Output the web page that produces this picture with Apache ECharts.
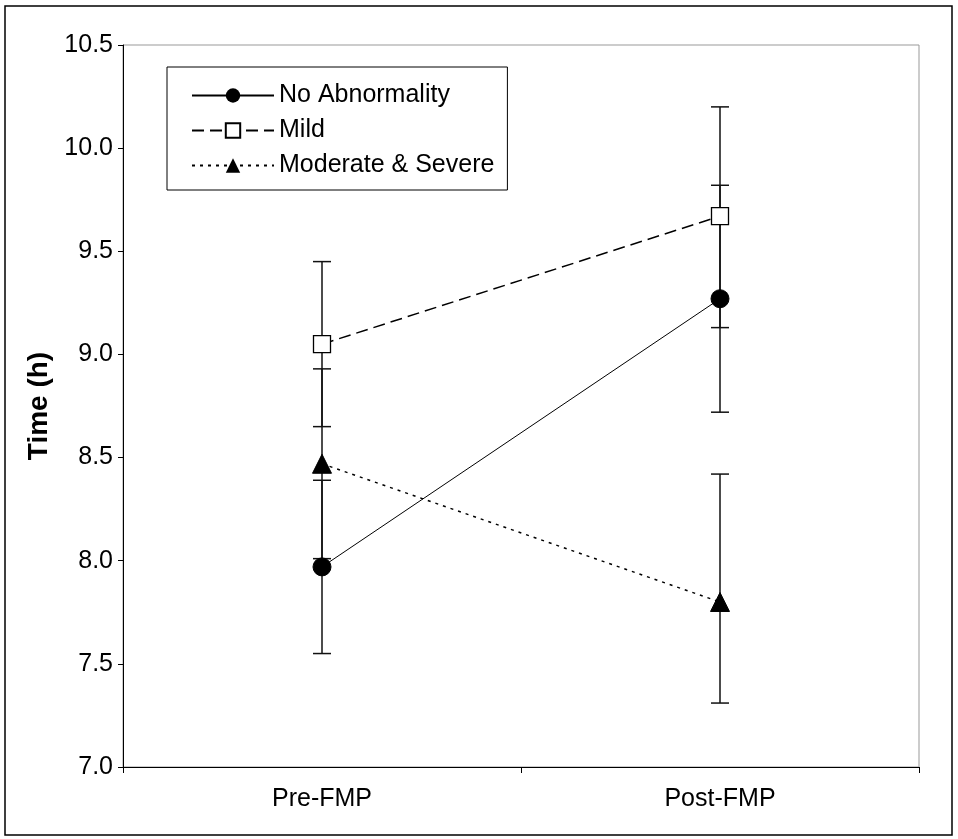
<!DOCTYPE html>
<html>
<head>
<meta charset="utf-8">
<script src="https://cdn.jsdelivr.net/npm/echarts@6/dist/echarts.min.js"></script>
<style>html,body{margin:0;padding:0;background:#fff;}#c{width:958px;height:839px;}</style>
</head>
<body>
<div id="c"></div>
<script>
const categories = ['Pre-FMP', 'Post-FMP'];
const seriesNames = ['No Abnormality', 'Mild', 'Moderate & Severe'];
const noAbnMean = [7.97, 9.27];
const noAbnLow = [7.55, 8.72];
const noAbnHigh = [8.39, 9.82];
const mildMean = [9.05, 9.67];
const mildLow = [8.65, 9.13];
const mildHigh = [9.45, 10.20];
const modMean = [8.47, 7.80];
const modLow = [8.01, 7.31];
const modHigh = [8.93, 8.42];
const yTicks = ['7.0','7.5','8.0','8.5','9.0','9.5','10.0','10.5'];

const FONT = 'Liberation Sans, Arial, sans-serif';
const chart = echarts.init(document.getElementById('c'));

function errData(low, high) {
  return categories.map((c, i) => [i, low[i], high[i]]);
}
function errSeries(name, low, high) {
  return {
    type: 'custom',
    name: name + ' err',
    z: 1,
    silent: true,
    data: errData(low, high),
    renderItem: function (params, api) {
      const x = api.value(0);
      const lo = api.coord([x, api.value(1)]);
      const hi = api.coord([x, api.value(2)]);
      const hw = 9;
      const st = { stroke: '#111', lineWidth: 1.5 };
      return {
        type: 'group',
        children: [
          { type: 'line', shape: { x1: lo[0], y1: lo[1], x2: hi[0], y2: hi[1] }, style: st },
          { type: 'line', shape: { x1: lo[0] - hw, y1: lo[1], x2: lo[0] + hw, y2: lo[1] }, style: st },
          { type: 'line', shape: { x1: hi[0] - hw, y1: hi[1], x2: hi[0] + hw, y2: hi[1] }, style: st }
        ]
      };
    }
  };
}

const option = {
  animation: false,
  backgroundColor: '#fff',
  grid: { left: 123, top: 45, right: 39, bottom: 72, show: true, borderColor: '#999', borderWidth: 1, containLabel: false },
  legend: {
    orient: 'vertical',
    left: 167, top: 67,
    padding: [16, 13, 12, 24],
    borderColor: '#000', borderWidth: 1,
    itemWidth: 82, itemHeight: 18, itemGap: 10,
    textStyle: { fontFamily: FONT, fontSize: 25, color: '#000' },
    data: seriesNames
  },
  xAxis: {
    type: 'category',
    data: categories,
    boundaryGap: true,
    axisLine: { lineStyle: { color: '#000', width: 1 } },
    axisTick: { show: true, length: 6, lineStyle: { color: '#000' } },
    axisLabel: { fontFamily: FONT, fontSize: 25, color: '#000', margin: 20 },
    splitLine: { show: false }
  },
  yAxis: {
    type: 'value',
    min: 7.0, max: 10.5, interval: 0.5,
    name: 'Time (h)',
    nameLocation: 'middle',
    nameGap: 64,
    nameTextStyle: { fontFamily: FONT, fontSize: 28, fontWeight: 'bold', color: '#000' },
    axisLine: { show: true, lineStyle: { color: '#000', width: 1 } },
    axisTick: { show: true, length: 5, lineStyle: { color: '#000' } },
    axisLabel: { fontFamily: FONT, fontSize: 25, color: '#000', margin: 10,
      formatter: function (v) { return yTicks[Math.round((v - 7.0) / 0.5)]; } },
    splitLine: { show: false }
  },
  graphic: [
    { type: 'rect', shape: { x: 5, y: 6, width: 947, height: 829 }, style: { fill: 'none', stroke: '#000', lineWidth: 1.5 }, z: -1, silent: true }
  ],
  series: [
    errSeries(seriesNames[0], noAbnLow, noAbnHigh),
    errSeries(seriesNames[1], mildLow, mildHigh),
    errSeries(seriesNames[2], modLow, modHigh),
    {
      name: seriesNames[0], type: 'line', z: 3, data: noAbnMean,
      symbol: 'circle', symbolSize: 18,
      itemStyle: { color: '#000', borderColor: '#000' },
      lineStyle: { color: '#000', width: 1, type: 'solid' }
    },
    {
      name: seriesNames[1], type: 'line', z: 3, data: mildMean,
      symbol: 'rect', symbolSize: 17,
      itemStyle: { color: '#fff', borderColor: '#000', borderWidth: 1.3 },
      lineStyle: { color: '#000', width: 1.5, type: [12, 6] }
    },
    {
      name: seriesNames[2], type: 'line', z: 3, data: modMean,
      symbol: 'triangle', symbolSize: 19,
      itemStyle: { color: '#000', borderColor: '#000' },
      lineStyle: { color: '#000', width: 1.5, type: [3, 5] }
    }
  ]
};
chart.setOption(option);
</script>
</body>
</html>
